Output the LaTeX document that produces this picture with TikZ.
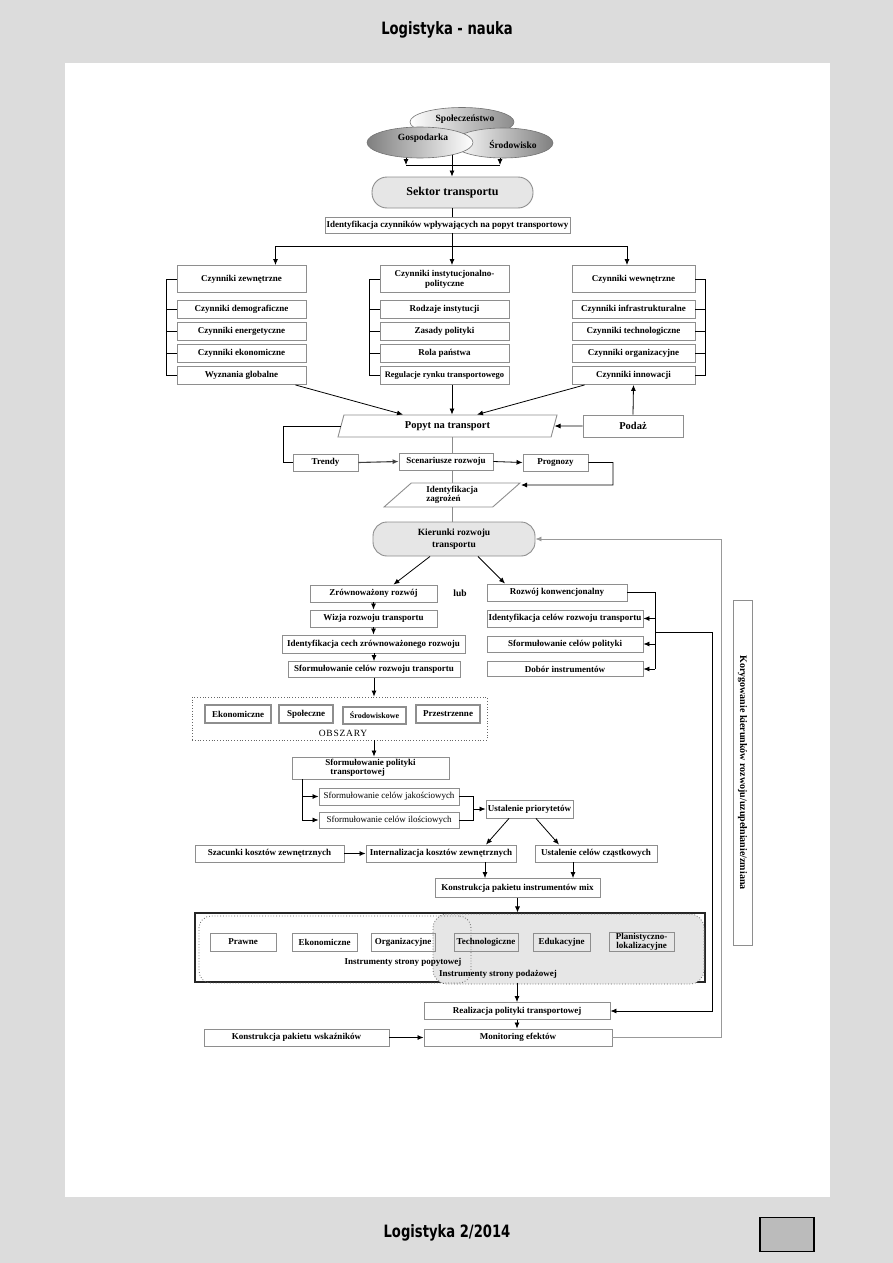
\documentclass[tikz,border=0pt]{standalone}
\usepackage{fontspec}
\setmainfont{Liberation Serif}
\newfontfamily\headfont{DejaVu Sans Condensed}[FakeStretch=0.86]
\usetikzlibrary{positioning,arrows.meta,calc,shapes.geometric}
\definecolor{pagegray}{HTML}{DCDCDC}
\definecolor{boxline}{HTML}{8E8E8E}
\definecolor{softfill}{HTML}{E6E6E6}
\definecolor{tabgray}{HTML}{BBBBBB}
\tikzset{
  linkarrow/.style={-{Latex[length=6pt,width=5pt]}, line width=0.8pt},
  plainline/.style={line width=0.8pt},
  grayline/.style={line width=0.8pt, draw=black!45},
  feedarrow/.style={-{Latex[length=6pt,width=5pt]}, line width=0.8pt, draw=black!40},
  stepbox/.style={draw=boxline, line width=0.9pt, fill=white, inner sep=1pt, align=center, font=\bfseries\fontsize{9}{10}\selectfont},
  thinbox/.style={stepbox, font=\fontsize{9}{10}\selectfont},
  colhead/.style={stepbox, minimum width=129, minimum height=27},
  colitem/.style={stepbox, minimum width=129, minimum height=18},
  midbox/.style={stepbox, minimum height=17},
  roundbox/.style={draw=boxline, line width=0.9pt, fill=softfill, align=center, font=\bfseries\fontsize{9.5}{12}\selectfont},
  ellnode/.style={draw=black!55, line width=0.6pt, ellipse, inner sep=0pt},
  ellabel/.style={font=\bfseries\fontsize{9.5}{10}\selectfont},
  skewbox/.style={draw=boxline, line width=0.9pt, fill=white, trapezium, trapezium stretches body, inner sep=1pt, align=center},
  areabox/.style={draw=black!60, dotted, line width=0.8pt},
  areaitem/.style={stepbox, line width=1.3pt, minimum height=18},
  instbox/.style={draw=boxline, line width=1pt, inner sep=1pt, align=center, minimum height=18, font=\bfseries\fontsize{9}{10}\selectfont},
  arealabel/.style={font=\bfseries\fontsize{9}{10}\selectfont},
  pagelabel/.style={font=\headfont\bfseries\fontsize{17}{20}\selectfont}
}

\begin{document}
\begin{tikzpicture}[x=1pt, y=-1pt]
  % page background
  \fill[pagegray] (0,0) rectangle (893,1263);
  \fill[white] (65,63) rectangle (830,1197);
  \useasboundingbox (0,0) rectangle (893,1263);
  \node[pagelabel] (title) at (447,30) {Logistyka - nauka};
  \node[pagelabel] (issue) at (447,1233) {Logistyka 2/2014};
  \node[draw=black, line width=1.2pt, fill=tabgray, minimum width=54, minimum height=34] (pagetab) at (787,1234.5) {};

  \coordinate (axis) at (452,0);

  % environment
  \node[roundbox, minimum width=161, minimum height=31, rounded corners=15pt, font=\bfseries\fontsize{12}{13}\selectfont] (sektor) at (452.5,192.5) {Sektor transportu};
  \coordinate (topsrc) at (452,145);
  \draw[linkarrow] (topsrc) -- (sektor.north -| axis);
  \node[ellnode, left color=white, right color=black!45, minimum width=104, minimum height=29] (spol) at (462,122) {};
  \node[ellnode, left color=white, right color=black!50, minimum width=100, minimum height=30] (srod) at (503,143) {};
  \node[ellnode, left color=black!50, right color=white, minimum width=106, minimum height=31] (gosp) at (420,142.5) {};
  \node[ellabel] (spollbl) at (465,119) {Społeczeństwo};
  \node[ellabel] (srodlbl) at (513,144) {Środowisko};
  \node[ellabel] (gosplbl) at (423,138) {Gospodarka};
  \coordinate (jl) at (406,165);
  \coordinate (jr) at (500,165);
  \draw[linkarrow] (gosp.south -| jl) -- (jl);
  \draw[linkarrow] (srod.south -| jr) -- (jr);
  \draw[plainline] (jl) -- (jr);

  \node[stepbox, minimum width=245, minimum height=16] (identf) at (447.5,225) {Identyfikacja czynników wpływających na popyt transportowy};
  \draw[plainline] (sektor.south -| axis) -- (identf.north -| axis);

  % factor columns
  \node[colhead] (zew) at (241.5,279) {Czynniki zewnętrzne};
  \node[colitem] (demo) at (241.5,309.5) {Czynniki demograficzne};
  \node[colitem] (ener) at (241.5,331.5) {Czynniki energetyczne};
  \node[colitem] (ekon) at (241.5,353) {Czynniki ekonomiczne};
  \node[colitem] (wyz) at (241.5,375.5) {Wyznania globalne};

  \node[colhead] (ins) at (444.5,279) {Czynniki instytucjonalno-\\polityczne};
  \node[colitem] (rodz) at (444.5,309.5) {Rodzaje instytucji};
  \node[colitem] (zas) at (444.5,331.5) {Zasady polityki};
  \node[colitem] (rola) at (444.5,353) {Rola państwa};
  \node[colitem, font=\bfseries\fontsize{8.5}{10}\selectfont] (reg) at (444.5,375.5) {Regulacje rynku transportowego};

  \node[colhead, minimum width=123] (wew) at (633.5,279) {Czynniki wewnętrzne};
  \node[colitem, minimum width=123] (infra) at (633.5,309.5) {Czynniki infrastrukturalne};
  \node[colitem, minimum width=123] (tech) at (633.5,331.5) {Czynniki technologiczne};
  \node[colitem, minimum width=123] (org) at (633.5,353) {Czynniki organizacyjne};
  \node[colitem, minimum width=123] (inno) at (633.5,375.5) {Czynniki innowacji};

  \coordinate (fork) at (452,246);
  \draw[linkarrow] (identf.south -| axis) -- (ins.north -| axis);
  \draw[linkarrow] (fork) -| ($(zew.north)+(34,0)$);
  \draw[linkarrow] (fork) -| ($(wew.north)+(-6.5,0)$);

  \coordinate (lbr) at (166,0);
  \coordinate (mbr) at (369,0);
  \coordinate (rbrk) at (705,0);
  \draw[plainline] (zew.west) -- (zew.west -| lbr) -- (wyz.west -| lbr) -- (wyz.west)
    (demo.west) -- (demo.west -| lbr) (ener.west) -- (ener.west -| lbr) (ekon.west) -- (ekon.west -| lbr);
  \draw[plainline] (ins.west) -- (ins.west -| mbr) -- (reg.west -| mbr) -- (reg.west)
    (rodz.west) -- (rodz.west -| mbr) (zas.west) -- (zas.west -| mbr) (rola.west) -- (rola.west -| mbr);
  \draw[plainline] (wew.east) -- (wew.east -| rbrk) -- (inno.east -| rbrk) -- (inno.east)
    (infra.east) -- (infra.east -| rbrk) (tech.east) -- (tech.east -| rbrk) (org.east) -- (org.east -| rbrk);

  % demand
  \node[skewbox, trapezium left angle=62, trapezium right angle=118, minimum width=219, minimum height=22, font=\bfseries\fontsize{10.5}{12}\selectfont] (popyt) at (447.5,426) {Popyt na transport};
  \node[stepbox, minimum width=100, minimum height=22, font=\bfseries\fontsize{10.5}{12}\selectfont] (podaz) at (633,426) {Podaż};
  \draw[linkarrow] ($(wyz.south east)+(-11,0)$) -- ($(popyt.north)+(-44.5,0)$);
  \draw[linkarrow] (reg.south -| axis) -- (popyt.north -| axis);
  \draw[linkarrow] ($(inno.south west)+(13,0)$) -- ($(popyt.north)+(29.5,0)$);
  \draw[linkarrow] (podaz.west) -- (popyt.east);
  \draw[linkarrow] (podaz.north) -- (inno.south);

  \node[midbox, minimum width=65] (trendy) at (325.5,462.5) {Trendy};
  \node[midbox, minimum width=94] (scen) at (446,461.5) {Scenariusze rozwoju};
  \node[midbox, minimum width=65] (prog) at (555.5,462.5) {Prognozy};
  \node[skewbox, trapezium left angle=36, trapezium right angle=144, minimum width=136, minimum height=24, align=left, font=\bfseries\fontsize{9}{9.5}\selectfont] (zag) at (452,495) {Identyfikacja\\zagrożeń};
  \coordinate (lpx) at (283,0);
  \coordinate (rp) at (613,485);
  \draw[plainline] (popyt.west) -- (popyt.west -| lpx) |- (trendy.west);
  \draw[linkarrow, draw=black!75, line width=1.1pt] (trendy.east) -- (scen.west);
  \draw[grayline] (popyt.south -| axis) -- (scen.north -| axis);
  \draw[linkarrow] (scen.east) -- (prog.west);
  \draw[linkarrow] (prog.east) -| (rp) -- ($(zag.east)+(14,-10)$);
  \draw[grayline] (scen.south -| axis) -- (zag.north -| axis);

  % directions
  \node[roundbox, minimum width=162, minimum height=34, rounded corners=14pt] (kier) at (454,539) {Kierunki rozwoju\\transportu};
  \draw[grayline] (zag.south -| axis) -- (kier.north -| axis);

  \node[midbox, minimum width=127] (zrow) at (373.5,593.5) {Zrównoważony rozwój};
  \node[font=\bfseries\fontsize{9.5}{10}\selectfont] (lub) at (460,593) {lub};
  \node[midbox, minimum width=140] (konw) at (557,592.5) {Rozwój konwencjonalny};
  \draw[linkarrow] ($(kier.south)+(-24,0)$) -- ($(zrow.north)+(20,0)$);
  \draw[linkarrow] ($(kier.south)+(24,0)$) -- ($(konw.north)+(-52,0)$);

  \node[midbox, minimum width=127] (wiz) at (373.5,618.5) {Wizja rozwoju transportu};
  \node[midbox, minimum width=183, minimum height=18] (cech) at (373.5,644) {Identyfikacja cech zrównoważonego rozwoju};
  \node[midbox, minimum width=172, minimum height=16] (cel) at (374,669.5) {Sformułowanie celów rozwoju transportu};
  \draw[linkarrow] (zrow.south) -- (wiz.north);
  \draw[linkarrow] (wiz.south) -- (cech.north);
  \draw[linkarrow] (cech.south) -- (cel.south |- cech.south) -- (cel.north);

  \node[midbox, minimum width=156] (idc) at (565,618.5) {Identyfikacja celów rozwoju transportu};
  \node[midbox, minimum width=156, minimum height=16] (polc) at (565,644) {Sformułowanie celów polityki};
  \node[midbox, minimum width=156, minimum height=15] (dob) at (565,669) {Dobór instrumentów};
  \coordinate (rbr) at (655,0);
  \draw[plainline] (konw.east) -- (konw.east -| rbr) -- (dob.east -| rbr);
  \draw[linkarrow] (idc.east -| rbr) -- (idc.east);
  \draw[linkarrow] (polc.east -| rbr) -- (polc.east);
  \draw[linkarrow] (dob.east -| rbr) -- (dob.east);

  % areas
  \node[areabox, minimum width=295, minimum height=43] (obsz) at (339.5,718.5) {};
  \node[areaitem, minimum width=66] (ekar) at (238,714) {Ekonomiczne};
  \node[areaitem, minimum width=54] (spar) at (306,714) {Społeczne};
  \node[areaitem, minimum width=63, minimum height=17, font=\bfseries\fontsize{8}{9}\selectfont] (srar) at (374.5,715.5) {Środowiskowe};
  \node[areaitem, minimum width=64] (przar) at (448,714) {Przestrzenne};
  \node[font=\fontsize{9.5}{11}\selectfont] (obszlbl) at (343,733) {\addfontfeature{LetterSpace=8}OBSZARY};
  \draw[linkarrow] (cel.south) -- (cel.south |- obsz.north);

  % policy
  \node[midbox, minimum width=157, minimum height=22, align=left, font=\bfseries\fontsize{9}{9.5}\selectfont] (pol) at (370.5,768) {Sformułowanie polityki\\\hspace{5pt}transportowej};
  \draw[linkarrow] (obsz.south -| cel.south) -- (pol.north -| cel.south);
  \node[thinbox, minimum width=140, minimum height=17] (jak) at (389,796.5) {Sformułowanie celów jakościowych};
  \node[thinbox, minimum width=140, minimum height=16] (ilo) at (389,820) {Sformułowanie celów ilościowych};
  \coordinate (lpol) at (302,0);
  \coordinate (jbr) at (473,0);
  \draw[linkarrow] (pol.south -| lpol) |- (jak.west);
  \draw[linkarrow] (pol.south -| lpol) |- (ilo.west);
  \node[midbox, minimum width=87, minimum height=18] (ust) at (529.5,809) {Ustalenie priorytetów};
  \draw[plainline] (jak.east) -- (jak.east -| jbr) -- (ilo.east -| jbr) -- (ilo.east);
  \draw[linkarrow] (ust.west -| jbr) -- (ust.west);

  \node[midbox, minimum width=149] (szac) at (269.5,853.5) {Szacunki kosztów zewnętrznych};
  \node[midbox, minimum width=150] (intk) at (441,853.5) {Internalizacja kosztów zewnętrznych};
  \node[midbox, minimum width=122] (czas) at (596,853.5) {Ustalenie celów cząstkowych};
  \draw[linkarrow] (szac.east) -- (intk.west);
  \draw[linkarrow] ($(ust.south)+(-20.5,0)$) -- ($(intk.north)+(45,0)$);
  \draw[linkarrow] ($(ust.south)+(6.5,0)$) -- ($(czas.north)+(-37,0)$);

  \node[midbox, minimum width=165, minimum height=19] (kon) at (517.5,888) {Konstrukcja pakietu instrumentów mix};
  \draw[linkarrow] ($(intk.south)+(44,0)$) -- ($(kon.north)+(-32.5,0)$);
  \draw[linkarrow] ($(czas.south)+(-23,0)$) -- ($(kon.north)+(55.5,0)$);

  % instruments
  \node[draw=black!85, line width=1.1pt, fill=white, minimum width=510, minimum height=69] (instr) at (450,947.5) {};
  \node[areabox, fill=softfill, rounded corners=14pt, minimum width=271, minimum height=70] (supply) at (568.5,949) {};
  \node[areabox, rounded corners=12pt, minimum width=272, minimum height=67] (demand) at (335,949.5) {};
  \node[instbox, minimum width=66] (prawne) at (243,942) {Prawne};
  \node[instbox, minimum width=65] (ekin) at (324.5,942) {Ekonomiczne};
  \node[instbox, minimum width=64] (orgin) at (403,942) {Organizacyjne};
  \node[instbox, minimum width=64] (techin) at (486,942) {Technologiczne};
  \node[instbox, minimum width=57] (edin) at (561.5,942) {Edukacyjne};
  \node[instbox, minimum width=65, font=\bfseries\fontsize{9}{7.5}\selectfont] (planin) at (641.5,942) {Planistyczno-\\lokalizacyjne};
  \node[arealabel] (demandlbl) at (403,962) {Instrumenty strony popytowej};
  \node[arealabel] (supplylbl) at (498,974) {Instrumenty strony podażowej};
  \draw[linkarrow] (kon.south) -- (kon.south |- instr.north);

  % realisation
  \node[midbox, minimum width=186] (real) at (517,1011) {Realizacja polityki transportowej};
  \node[midbox, minimum width=188] (mon) at (518,1037.5) {Monitoring efektów};
  \node[midbox, minimum width=185] (wsk) at (296.5,1037.5) {Konstrukcja pakietu wskaźników};
  \draw[linkarrow] (instr.south -| real.north) -- (real.north);
  \draw[linkarrow] (real.south) -- (real.south |- mon.north);
  \draw[linkarrow] (wsk.east) -- (mon.west);

  % feedback
  \coordinate (fbx) at (721,0);
  \coordinate (rj) at (655,632);
  \coordinate (rx) at (712,0);
  \draw[feedarrow] (mon.east) -- (mon.east -| fbx) |- (kier.east);
  \draw[linkarrow] (rj) -- (rj -| rx) |- (real.east);
  \node[stepbox, rotate=-90, minimum width=345, minimum height=19, font=\bfseries\fontsize{10}{11}\selectfont] (kor) at (742.5,772.5) {Korygowanie kierunków rozwoju/uzupełnianie/zmiana};
\end{tikzpicture}
\end{document}
